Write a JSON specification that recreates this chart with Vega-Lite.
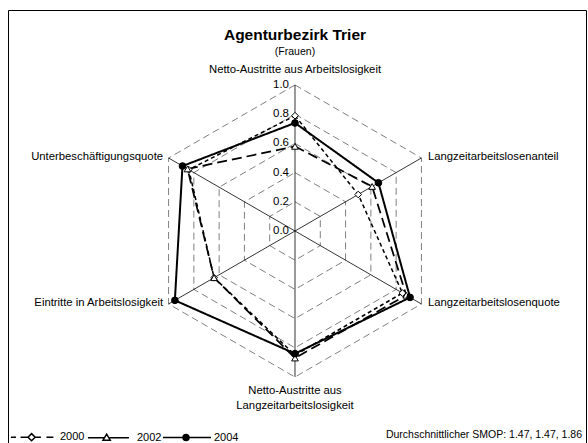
{
  "$schema": "https://vega.github.io/schema/vega-lite/v6.json",
  "width": 588,
  "height": 443,
  "autosize": {"type": "fit", "contains": "padding"},
  "padding": {"left": 8, "top": 10, "right": 2, "bottom": 0},
  "background": "white",
  "config": {
    "view": {"stroke": "black", "strokeWidth": 1},
    "text": {"font": "Liberation Sans", "color": "black"},
    "legend": {"labelFont": "Liberation Sans"}
  },
  "datasets": {
    "series": [
      {"year": "2000", "i": 0, "axis": "Netto-Austritte aus Arbeitslosigkeit", "value": 0.79},
      {"year": "2000", "i": 1, "axis": "Langzeitarbeitslosenanteil", "value": 0.50},
      {"year": "2000", "i": 2, "axis": "Langzeitarbeitslosenquote", "value": 0.85},
      {"year": "2000", "i": 3, "axis": "Netto-Austritte aus Langzeitarbeitslosigkeit", "value": 0.85},
      {"year": "2000", "i": 4, "axis": "Eintritte in Arbeitslosigkeit", "value": 0.64},
      {"year": "2000", "i": 5, "axis": "Unterbeschäftigungsquote", "value": 0.84},
      {"year": "2002", "i": 0, "axis": "Netto-Austritte aus Arbeitslosigkeit", "value": 0.58},
      {"year": "2002", "i": 1, "axis": "Langzeitarbeitslosenanteil", "value": 0.61},
      {"year": "2002", "i": 2, "axis": "Langzeitarbeitslosenquote", "value": 0.88},
      {"year": "2002", "i": 3, "axis": "Netto-Austritte aus Langzeitarbeitslosigkeit", "value": 0.87},
      {"year": "2002", "i": 4, "axis": "Eintritte in Arbeitslosigkeit", "value": 0.64},
      {"year": "2002", "i": 5, "axis": "Unterbeschäftigungsquote", "value": 0.85},
      {"year": "2004", "i": 0, "axis": "Netto-Austritte aus Arbeitslosigkeit", "value": 0.74},
      {"year": "2004", "i": 1, "axis": "Langzeitarbeitslosenanteil", "value": 0.66},
      {"year": "2004", "i": 2, "axis": "Langzeitarbeitslosenquote", "value": 0.91},
      {"year": "2004", "i": 3, "axis": "Netto-Austritte aus Langzeitarbeitslosigkeit", "value": 0.84},
      {"year": "2004", "i": 4, "axis": "Eintritte in Arbeitslosigkeit", "value": 0.95},
      {"year": "2004", "i": 5, "axis": "Unterbeschäftigungsquote", "value": 0.89}
    ],
    "axes": [
      {"i": 0, "label": "Netto-Austritte aus Arbeitslosigkeit"},
      {"i": 1, "label": "Langzeitarbeitslosenanteil"},
      {"i": 2, "label": "Langzeitarbeitslosenquote"},
      {"i": 3, "label": ["Netto-Austritte aus", "Langzeitarbeitslosigkeit"]},
      {"i": 4, "label": "Eintritte in Arbeitslosigkeit"},
      {"i": 5, "label": "Unterbeschäftigungsquote"}
    ],
    "levels": [
      {"level": 0.2, "i": [0, 1, 2, 3, 4, 5]},
      {"level": 0.4, "i": [0, 1, 2, 3, 4, 5]},
      {"level": 0.6, "i": [0, 1, 2, 3, 4, 5]},
      {"level": 0.8, "i": [0, 1, 2, 3, 4, 5]},
      {"level": 1.0, "i": [0, 1, 2, 3, 4, 5]}
    ],
    "ticks": [{"v": 0}, {"v": 0.2}, {"v": 0.4}, {"v": 0.6}, {"v": 0.8}, {"v": 1.0}]
  },
  "layer": [
    {
      "data": {"name": "levels"},
      "transform": [
        {"flatten": ["i"]},
        {"calculate": "datum.level * sin(datum.i * PI / 3)", "as": "x"},
        {"calculate": "datum.level * cos(datum.i * PI / 3)", "as": "y"}
      ],
      "mark": {"type": "line", "interpolate": "linear-closed", "color": "#808080", "strokeWidth": 1, "strokeDash": [7, 4]},
      "encoding": {
        "x": {"field": "x", "type": "quantitative", "scale": {"domain": [-1.9658, 1.9932], "nice": false, "zero": false}, "axis": null},
        "y": {"field": "y", "type": "quantitative", "scale": {"domain": [-1.4521, 1.5137], "nice": false, "zero": false}, "axis": null},
        "detail": {"field": "level", "type": "nominal"},
        "order": {"field": "i", "type": "quantitative"}
      }
    },
    {
      "data": {"name": "axes"},
      "transform": [
        {"calculate": "sin(datum.i * PI / 3)", "as": "x"},
        {"calculate": "cos(datum.i * PI / 3)", "as": "y"}
      ],
      "mark": {"type": "rule", "color": "black", "strokeWidth": 0.8},
      "encoding": {
        "x": {"field": "x", "type": "quantitative", "scale": {"domain": [-1.9658, 1.9932], "nice": false, "zero": false}, "axis": null},
        "y": {"field": "y", "type": "quantitative", "scale": {"domain": [-1.4521, 1.5137], "nice": false, "zero": false}, "axis": null},
        "x2": {"datum": 0},
        "y2": {"datum": 0}
      }
    },
    {
      "data": {"name": "series"},
      "transform": [
        {"calculate": "datum.value * sin(datum.i * PI / 3)", "as": "x"},
        {"calculate": "datum.value * cos(datum.i * PI / 3)", "as": "y"}
      ],
      "mark": {"type": "line", "interpolate": "linear-closed", "color": "black"},
      "encoding": {
        "x": {"field": "x", "type": "quantitative", "scale": {"domain": [-1.9658, 1.9932], "nice": false, "zero": false}, "axis": null},
        "y": {"field": "y", "type": "quantitative", "scale": {"domain": [-1.4521, 1.5137], "nice": false, "zero": false}, "axis": null},
        "detail": {"field": "year", "type": "nominal"},
        "order": {"field": "i", "type": "quantitative"},
        "strokeDash": {"field": "year", "type": "nominal", "scale": {"domain": ["2000", "2002", "2004"], "range": [[4, 3], [10, 5], [1, 0]]}, "legend": null},
        "strokeWidth": {"field": "year", "type": "nominal", "scale": {"domain": ["2000", "2002", "2004"], "range": [1.5, 2, 2]}, "legend": null}
      }
    },
    {
      "data": {"name": "series"},
      "transform": [
        {"calculate": "datum.value * sin(datum.i * PI / 3)", "as": "x"},
        {"calculate": "datum.value * cos(datum.i * PI / 3)", "as": "y"}
      ],
      "mark": {"type": "point", "filled": true, "stroke": "black", "strokeWidth": 1, "opacity": 1},
      "encoding": {
        "x": {"field": "x", "type": "quantitative", "scale": {"domain": [-1.9658, 1.9932], "nice": false, "zero": false}, "axis": null},
        "y": {"field": "y", "type": "quantitative", "scale": {"domain": [-1.4521, 1.5137], "nice": false, "zero": false}, "axis": null},
        "shape": {"field": "year", "type": "nominal", "scale": {"domain": ["2000", "2002", "2004"], "range": ["diamond", "triangle-up", "circle"]}, "legend": null},
        "fill": {"field": "year", "type": "nominal", "scale": {"domain": ["2000", "2002", "2004"], "range": ["white", "white", "black"]}, "legend": null},
        "size": {"field": "year", "type": "nominal", "scale": {"domain": ["2000", "2002", "2004"], "range": [45, 45, 30]}, "legend": null}
      }
    },
    {
      "data": {"name": "series"},
      "transform": [
        {"filter": "datum.i < 0"},
        {"calculate": "datum.value * sin(datum.i * PI / 3)", "as": "x"},
        {"calculate": "datum.value * cos(datum.i * PI / 3)", "as": "y"}
      ],
      "mark": {"type": "point", "filled": false, "color": "black", "strokeWidth": 1.5},
      "encoding": {
        "x": {"field": "x", "type": "quantitative", "scale": {"domain": [-1.9658, 1.9932], "nice": false, "zero": false}, "axis": null},
        "y": {"field": "y", "type": "quantitative", "scale": {"domain": [-1.4521, 1.5137], "nice": false, "zero": false}, "axis": null},
        "shape": {
          "field": "year", "type": "nominal",
          "scale": {"domain": ["2000", "2002", "2004"], "range": [
            "M-0.92,0H-0.71M-0.52,0H-0.21M-0.21,0L-0.06,-0.15L0.09,0L-0.06,0.15Z M0.09,0H0.33M0.56,0H0.85",
            "M-0.92,0H-0.23M-0.02,0H0.79M-0.29,0.1L-0.14,-0.15L0.01,0.1Z",
            "M-1,0H1M-0.165,0A0.125,0.125 0 1,1 0.085,0A0.125,0.125 0 1,1 -0.165,0ZM-0.12,0A0.08,0.08 0 1,1 0.04,0A0.08,0.08 0 1,1 -0.12,0ZM-0.08,0A0.04,0.04 0 1,1 0,0A0.04,0.04 0 1,1 -0.08,0Z"
          ]},
          "legend": {
            "orient": "none", "legendX": 0, "legendY": 402, "direction": "horizontal", "title": null,
            "symbolSize": 2304, "symbolStrokeWidth": 1.5, "symbolStrokeColor": "black", "symbolOpacity": 1,
            "labelFontSize": 11, "labelColor": "black", "labelOffset": 2, "columnPadding": -2.5, "padding": 0
          }
        }
      }
    },
    {
      "data": {"name": "ticks"},
      "mark": {"type": "text", "align": "right", "baseline": "middle", "dx": -6, "fontSize": 11.5},
      "encoding": {
        "x": {"datum": 0, "type": "quantitative", "scale": {"domain": [-1.9658, 1.9932], "nice": false, "zero": false}, "axis": null},
        "y": {"field": "v", "type": "quantitative", "scale": {"domain": [-1.4521, 1.5137], "nice": false, "zero": false}, "axis": null},
        "text": {"field": "v", "type": "quantitative", "format": ".1f"}
      }
    },
    {
      "data": {"name": "axes"},
      "transform": [
        {"filter": "datum.i == 0"},
        {"calculate": "sin(datum.i * PI / 3)", "as": "x"},
        {"calculate": "cos(datum.i * PI / 3)", "as": "y"}
      ],
      "mark": {"type": "text", "align": "center", "baseline": "middle", "dy": -15, "fontSize": 11.3},
      "encoding": {
        "x": {"field": "x", "type": "quantitative", "scale": {"domain": [-1.9658, 1.9932], "nice": false, "zero": false}, "axis": null},
        "y": {"field": "y", "type": "quantitative", "scale": {"domain": [-1.4521, 1.5137], "nice": false, "zero": false}, "axis": null},
        "text": {"field": "label", "type": "nominal"}
      }
    },
    {
      "data": {"name": "axes"},
      "transform": [
        {"filter": "datum.i == 3"},
        {"calculate": "sin(datum.i * PI / 3)", "as": "x"},
        {"calculate": "cos(datum.i * PI / 3)", "as": "y"}
      ],
      "mark": {"type": "text", "align": "center", "baseline": "middle", "dy": 14.5, "fontSize": 11.3, "lineHeight": 15},
      "encoding": {
        "x": {"field": "x", "type": "quantitative", "scale": {"domain": [-1.9658, 1.9932], "nice": false, "zero": false}, "axis": null},
        "y": {"field": "y", "type": "quantitative", "scale": {"domain": [-1.4521, 1.5137], "nice": false, "zero": false}, "axis": null},
        "text": {"field": "label", "type": "nominal"}
      }
    },
    {
      "data": {"name": "axes"},
      "transform": [
        {"filter": "datum.i == 1 || datum.i == 2"},
        {"calculate": "sin(datum.i * PI / 3)", "as": "x"},
        {"calculate": "cos(datum.i * PI / 3)", "as": "y"}
      ],
      "mark": {"type": "text", "align": "left", "baseline": "middle", "dx": 6.5, "dy": -1, "fontSize": 11.3},
      "encoding": {
        "x": {"field": "x", "type": "quantitative", "scale": {"domain": [-1.9658, 1.9932], "nice": false, "zero": false}, "axis": null},
        "y": {"field": "y", "type": "quantitative", "scale": {"domain": [-1.4521, 1.5137], "nice": false, "zero": false}, "axis": null},
        "text": {"field": "label", "type": "nominal"}
      }
    },
    {
      "data": {"name": "axes"},
      "transform": [
        {"filter": "datum.i == 4 || datum.i == 5"},
        {"calculate": "sin(datum.i * PI / 3)", "as": "x"},
        {"calculate": "cos(datum.i * PI / 3)", "as": "y"}
      ],
      "mark": {"type": "text", "align": "right", "baseline": "middle", "dx": -5.5, "dy": -1, "fontSize": 11.3},
      "encoding": {
        "x": {"field": "x", "type": "quantitative", "scale": {"domain": [-1.9658, 1.9932], "nice": false, "zero": false}, "axis": null},
        "y": {"field": "y", "type": "quantitative", "scale": {"domain": [-1.4521, 1.5137], "nice": false, "zero": false}, "axis": null},
        "text": {"field": "label", "type": "nominal"}
      }
    },
    {
      "data": {"values": [{"t": "Agenturbezirk Trier"}]},
      "mark": {"type": "text", "align": "center", "baseline": "middle", "fontSize": 15.5, "fontWeight": "bold"},
      "encoding": {
        "x": {"datum": 0, "type": "quantitative", "scale": {"domain": [-1.9658, 1.9932], "nice": false, "zero": false}, "axis": null},
        "y": {"datum": 1.342, "type": "quantitative", "scale": {"domain": [-1.4521, 1.5137], "nice": false, "zero": false}, "axis": null},
        "text": {"field": "t", "type": "nominal"}
      }
    },
    {
      "data": {"values": [{"t": "(Frauen)"}]},
      "mark": {"type": "text", "align": "center", "baseline": "middle", "fontSize": 10.5},
      "encoding": {
        "x": {"datum": 0, "type": "quantitative", "scale": {"domain": [-1.9658, 1.9932], "nice": false, "zero": false}, "axis": null},
        "y": {"datum": 1.226, "type": "quantitative", "scale": {"domain": [-1.4521, 1.5137], "nice": false, "zero": false}, "axis": null},
        "text": {"field": "t", "type": "nominal"}
      }
    },
    {
      "data": {"values": [{"t": "Durchschnittlicher SMOP: 1.47, 1.47, 1.86"}]},
      "mark": {"type": "text", "align": "right", "baseline": "middle", "fontSize": 10.5},
      "encoding": {
        "x": {"datum": 1.966, "type": "quantitative", "scale": {"domain": [-1.9658, 1.9932], "nice": false, "zero": false}, "axis": null},
        "y": {"datum": -1.397, "type": "quantitative", "scale": {"domain": [-1.4521, 1.5137], "nice": false, "zero": false}, "axis": null},
        "text": {"field": "t", "type": "nominal"}
      }
    }
  ],
  "resolve": {"scale": {"shape": "independent"}, "legend": {"shape": "independent"}}
}
